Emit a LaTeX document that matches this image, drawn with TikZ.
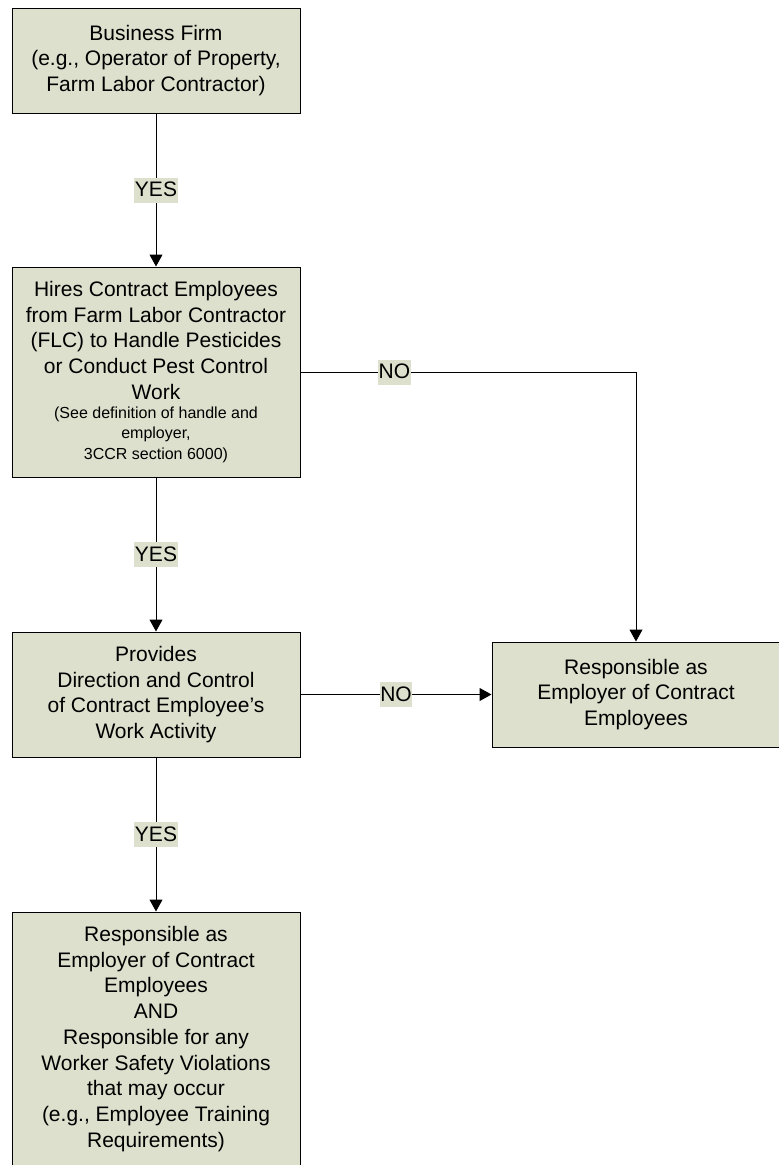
\documentclass[tikz,border=0pt]{standalone}
\usepackage{fontspec}
\setmainfont{Liberation Sans}
\usepackage{tikz}
\usetikzlibrary{positioning,arrows.meta}
\definecolor{boxfill}{RGB}{221,224,205}
\newcommand{\mainsz}{\fontsize{21}{25.75}\selectfont}
\newcommand{\notesz}{\fontsize{16}{20}\selectfont}

\begin{document}
\begin{tikzpicture}[x=1pt,y=-1pt,every node/.style={font=\mainsz},
  stepbox/.style={draw,line width=1pt,fill=boxfill,minimum width=288pt,align=center,inner sep=0pt},
  flow/.style={line width=1pt,-{Triangle[width=13pt,length=12pt]}},
  answer/.style={fill=boxfill,inner xsep=0.5pt,inner ysep=0pt,text height=19pt,text depth=6pt}]
  \useasboundingbox (0,0) rectangle (779,1165);
  % left column: firm -> hires -> provides -> duty
  \node[stepbox,minimum height=105pt] (firm) at (156,60.5) {Business Firm\\(e.g., Operator of Property,\\Farm Labor Contractor)};
  \node[stepbox,minimum height=210pt] (hires) at (156,372) {Hires Contract Employees\\from Farm Labor Contractor\\(FLC) to Handle Pesticides\\or Conduct Pest Control\\Work\\[-7pt]\notesz (See definition of handle and\\[-5pt]\notesz employer,\\[-5pt]\notesz 3CCR section 6000)};
  \node[stepbox,minimum height=125pt] (provides) at (156,694.5) {Provides\\Direction and Control\\of Contract Employee's\\Work Activity};
  \node[stepbox,minimum height=254pt] (duty) at (156,1039) {Responsible as\\Employer of Contract\\Employees\\AND\\Responsible for any\\Worker Safety Violations\\that may occur\\(e.g., Employee Training\\Requirements)};
  % right: employer only
  \node[stepbox,minimum height=105pt] (resp) at (636,694.5) {Responsible as\\Employer of Contract\\Employees};
  % YES / NO connectors
  \draw[flow] (firm) -- node[answer]{YES} (hires);
  \draw[flow] (hires) -- node[answer]{YES} (provides);
  \draw[flow] (provides) -- node[answer]{YES} (duty);
  \draw[flow] (hires.east) -| node[answer,pos=0.14]{NO} (resp.north);
  \draw[flow] (provides.east) -- node[answer]{NO} (resp.west);
\end{tikzpicture}
\end{document}
